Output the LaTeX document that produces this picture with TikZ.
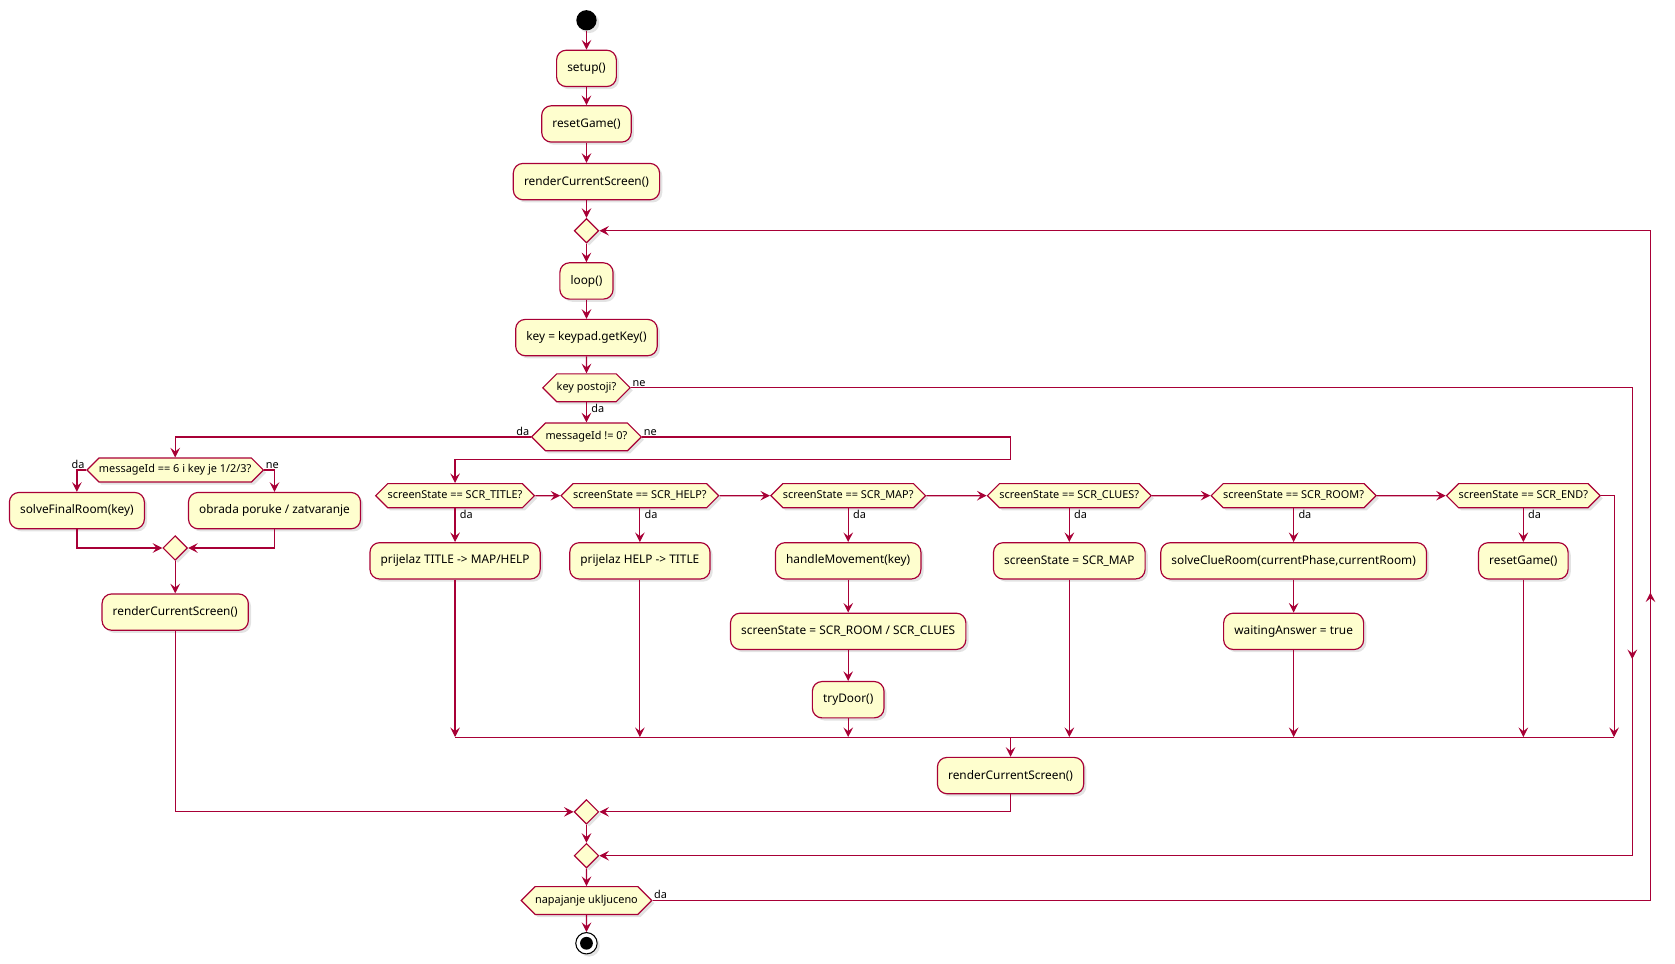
\documentclass[tikz,border=0pt]{standalone}
\usepackage{fontspec}
\setmainfont{Noto Sans}
\usetikzlibrary{arrows.meta,shapes.geometric,shapes.symbols,shadows,calc}
\definecolor{umlred}{HTML}{A80036}
\definecolor{umlfill}{HTML}{FEFECE}
\tikzset{
  softshadow/.style={drop shadow={opacity=0.22, shadow xshift=2.5pt, shadow yshift=-2.5pt}},
  act/.style={draw=umlred, fill=umlfill, line width=1.1pt, rounded corners=9pt,
    minimum height=34pt, inner xsep=10pt, font=\fontsize{11.1}{13}\selectfont, softshadow},
  cond/.style={draw=umlred, fill=umlfill, line width=1.1pt, shape=signal,
    signal to=east and west, minimum height=22.5pt, inner xsep=0pt, inner ysep=1pt,
    font=\fontsize{10.2}{12}\selectfont, softshadow},
  bigcond/.style={cond, minimum height=26pt, inner xsep=0pt},
  mergept/.style={draw=umlred, fill=umlfill, line width=1.1pt, diamond,
    minimum width=23pt, minimum height=23pt, inner sep=0pt, softshadow},
  flow/.style={draw=umlred, line width=1.1pt, -{Stealth[length=9pt,width=9pt,inset=3.5pt]}},
  wire/.style={draw=umlred, line width=1.1pt},
  lbl/.style={font=\fontsize{10.2}{12}\selectfont, inner sep=1pt},
}
\begin{document}
\begin{tikzpicture}[x=1pt,y=-1pt]
\useasboundingbox (0,0) rectangle (1568,902);
% main column
\node[circle, fill=black, minimum size=19pt, inner sep=0pt, softshadow] (start) at (549,19) {};
\node[act] (setup) at (549,64) {setup()};
\node[act] (reset) at (549,116) {resetGame()};
\node[act] (render) at (549,170) {renderCurrentScreen()};
\node[mergept] (loopin) at (549,216) {};
\node[act] (loop) at (549,263) {loop()};
\node[act] (getkey) at (549,316) {key = keypad.getKey()};
\node[bigcond] (haskey) at (549,363) {key postoji?};
\node[bigcond] (msgset) at (549,409) {messageId != 0?};
% message branch
\node[cond] (final) at (164,440) {messageId == 6 i key je 1/2/3?};
\node[act] (solve) at (72,478) {solveFinalRoom(key)};
\node[act] (msgclose) at (257,478) {obrada poruke / zatvaranje};
\node[mergept] (msgjoin) at (164,513) {};
\node[act] (msgrender) at (164,573) {renderCurrentScreen()};
% screen states
\node[cond] (title) at (426,464) {screenState == SCR\_TITLE?};
\node[cond] (help) at (599,464) {screenState == SCR\_HELP?};
\node[cond] (map) at (794,464) {screenState == SCR\_MAP?};
\node[cond] (clues) at (1001,464) {screenState == SCR\_CLUES?};
\node[cond] (room) at (1211,464) {screenState == SCR\_ROOM?};
\node[cond] (isend) at (1426,464) {screenState == SCR\_END?};
\node[act] (totitle) at (426,525) {prijelaz TITLE -> MAP/HELP};
\node[act] (tohelp) at (599,525) {prijelaz HELP -> TITLE};
\node[act] (move) at (794,525) {handleMovement(key)};
\node[act] (setroom) at (794,591) {screenState = SCR\_ROOM / SCR\_CLUES};
\node[act] (door) at (794,655) {tryDoor()};
\node[act] (tomap) at (1001,525) {screenState = SCR\_MAP};
\node[act] (clue) at (1211,525) {solveClueRoom(currentPhase,currentRoom)};
\node[act] (wait) at (1211,591) {waitingAnswer = true};
\node[act] (restart) at (1426,525) {resetGame()};
\coordinate (join) at (946,690);
\node[act] (scrrender) at (946,726) {renderCurrentScreen()};
% end of loop
\node[mergept] (keyjoin) at (549,760) {};
\node[mergept] (loopend) at (549,801) {};
\node[bigcond] (power) at (549,843) {napajanje ukljuceno};
\node[circle, draw=black, fill=white, line width=1pt, minimum size=20pt, inner sep=0pt, softshadow] (stop) at (549,883) {};
\fill (stop) circle (6pt);
\coordinate (skipR) at (1528,363);
\coordinate (skipB) at (1528,801);
\coordinate (backB) at (1545,843);
\coordinate (backT) at (1545,216);
\coordinate (split) at (946,430);
\coordinate (endR) at (1511,464);

\draw[flow] (start) -- (setup);
\draw[flow] (setup) -- (reset);
\draw[flow] (reset) -- (render);
\draw[flow] (render) -- (loopin);
\draw[flow] (loopin) -- (loop);
\draw[flow] (loop) -- (getkey);
\draw[flow] (getkey) -- (haskey);
\draw[flow] (haskey.south) node[lbl, anchor=north west, xshift=3pt]{da} -- (msgset.north);
\draw[flow] (haskey.east) node[lbl, anchor=south west]{ne} -- (skipR) -- ($(skipR)!0.58!(skipB)$);
\draw[flow] ($(skipR)!0.57!(skipB)$) -- (skipB) -- (loopend.east);
\draw[flow] (msgset.west) node[lbl, anchor=south east]{da} -| (final.north);
\draw[flow] (msgset.east) node[lbl, anchor=south west]{ne} -| (split) -| (title.north);
\draw[flow] (final.west) node[lbl, anchor=south east]{da} -| (solve.north);
\draw[flow] (final.east) node[lbl, anchor=south west]{ne} -| (msgclose.north);
\draw[flow] (solve.south) |- (msgjoin.west);
\draw[flow] (msgclose.south) |- (msgjoin.east);
\draw[flow] (msgjoin) -- (msgrender);
\draw[flow] (msgrender.south) |- (keyjoin.west);

\draw[flow] (title) -- (help);
\draw[flow] (help) -- (map);
\draw[flow] (map) -- (clues);
\draw[flow] (clues) -- (room);
\draw[flow] (room) -- (isend);
\draw[flow] (isend.east) -- (endR) -- (endR |- join);
\draw[flow] (title.south) node[lbl, anchor=north west, xshift=3pt]{da} -- (totitle.north);
\draw[flow] (help.south) node[lbl, anchor=north west, xshift=3pt]{da} -- (tohelp.north);
\draw[flow] (map.south) node[lbl, anchor=north west, xshift=3pt]{da} -- (move.north);
\draw[flow] (clues.south) node[lbl, anchor=north west, xshift=3pt]{da} -- (tomap.north);
\draw[flow] (room.south) node[lbl, anchor=north west, xshift=3pt]{da} -- (clue.north);
\draw[flow] (isend.south) node[lbl, anchor=north west, xshift=3pt]{da} -- (restart.north);
\draw[flow] (totitle) -- (totitle |- join);
\draw[flow] (tohelp) -- (tohelp |- join);
\draw[flow] (move) -- (setroom);
\draw[flow] (setroom) -- (door);
\draw[flow] (door) -- (door |- join);
\draw[flow] (tomap) -- (tomap |- join);
\draw[flow] (clue) -- (wait);
\draw[flow] (wait) -- (wait |- join);
\draw[flow] (restart) -- (restart |- join);
\draw[wire] (totitle |- join) -- (endR |- join);
\draw[flow] (join) -- (scrrender);
\draw[flow] (scrrender.south) |- (keyjoin.east);

\draw[flow] (keyjoin) -- (loopend);
\draw[flow] (loopend) -- (power);
\draw[flow] (power) -- (stop);
\draw[flow] (power.east) node[lbl, anchor=south west]{da} -- (backB) -- ($(backB)!0.46!(backT)$);
\draw[flow] ($(backB)!0.45!(backT)$) -- (backT) -- (loopin.east);
\end{tikzpicture}
\end{document}
